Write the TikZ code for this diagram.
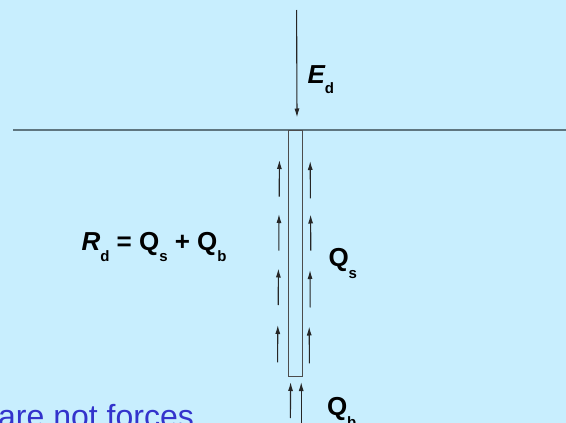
\documentclass[tikz,border=0pt]{standalone}
\usepackage{fontspec}
\setmainfont{Liberation Sans}
\usetikzlibrary{arrows.meta}
\definecolor{bgc}{RGB}{200,238,254}
\definecolor{groundc}{RGB}{95,118,128}
\definecolor{bluetxt}{RGB}{51,51,204}
\newcommand{\subd}[2]{\raisebox{#1}{\fontsize{15}{15}\selectfont\bfseries #2}}
\tikzset{
  force/.style={black!85, line width=1.1pt, -{Latex[length=9pt,width=5pt]}},
  lbl/.style={inner sep=0pt, outer sep=0pt, anchor=base west, font=\fontsize{26}{26}\selectfont\bfseries},
  pile/.style={draw=black!70, line width=1pt, fill=none}
}
\begin{document}
\begin{tikzpicture}[x=1pt,y=-1pt]
\fill[bgc] (0,0) rectangle (566,423);
\useasboundingbox (0,0) rectangle (566,423);
\clip (0,0) rectangle (566,423);
% ground
\coordinate (g1) at (13,130);
\coordinate (g2) at (566,130);
\draw[groundc, line width=1.3pt] (g1) -- (g2);
% pile
\node[pile, minimum width=14pt, minimum height=245.7pt, inner sep=0pt, anchor=north west] (pilebox) at (288.2,130) {};
% design load
\coordinate (e1) at (296.6,10);
\coordinate (e2) at (297,117.5);
\draw[force] (e1) -- (e2);
\node[lbl] (Ed) at (307.5,83) {\itshape E\subd{-10pt}{\upshape d}};
% shaft friction arrows left
\foreach \i/\xt/\yt/\xb/\yb in {1/279.4/160/279.2/196.7, 2/279/214/278.8/250.7, 3/278.4/268.5/278.2/305, 4/277.8/325/277.6/362.3}{
  \coordinate (lt\i) at (\xb,\yb);
  \coordinate (lh\i) at (\xt,\yt);
  \draw[force] (lt\i) -- (lh\i);
}
% shaft friction arrows right
\foreach \i/\xt/\yt/\xb/\yb in {1/310.2/161/310.4/198.3, 2/310.6/214.5/310.8/250.7, 3/310/270/310.2/307.3, 4/309.2/326.5/309.4/363.3}{
  \coordinate (rt\i) at (\xb,\yb);
  \coordinate (rh\i) at (\xt,\yt);
  \draw[force] (rt\i) -- (rh\i);
}
% base arrows
\coordinate (b1t) at (290.4,418);
\coordinate (b1h) at (290.6,382);
\coordinate (b2t) at (301.2,423);
\coordinate (b2h) at (301.2,382);
\draw[force] (b1t) -- (b1h);
\draw[force] (b2t) -- (b2h);
% labels
\node[lbl] (Rd) at (81.5,250) {\itshape R\subd{-11pt}{\upshape d}\upshape\ = Q\subd{-11pt}{s} + Q\subd{-11pt}{b}};
\node[lbl] (Qs) at (328.5,266) {Q\subd{-12pt}{s}};
\node[lbl] (Qb) at (327,415.5) {Q\subd{-12pt}{b}};
\node[inner sep=0pt, anchor=base west, text=bluetxt, font=\fontsize{32}{32}\selectfont] (note) at (-2,427) {are not forces};
\end{tikzpicture}
\end{document}
